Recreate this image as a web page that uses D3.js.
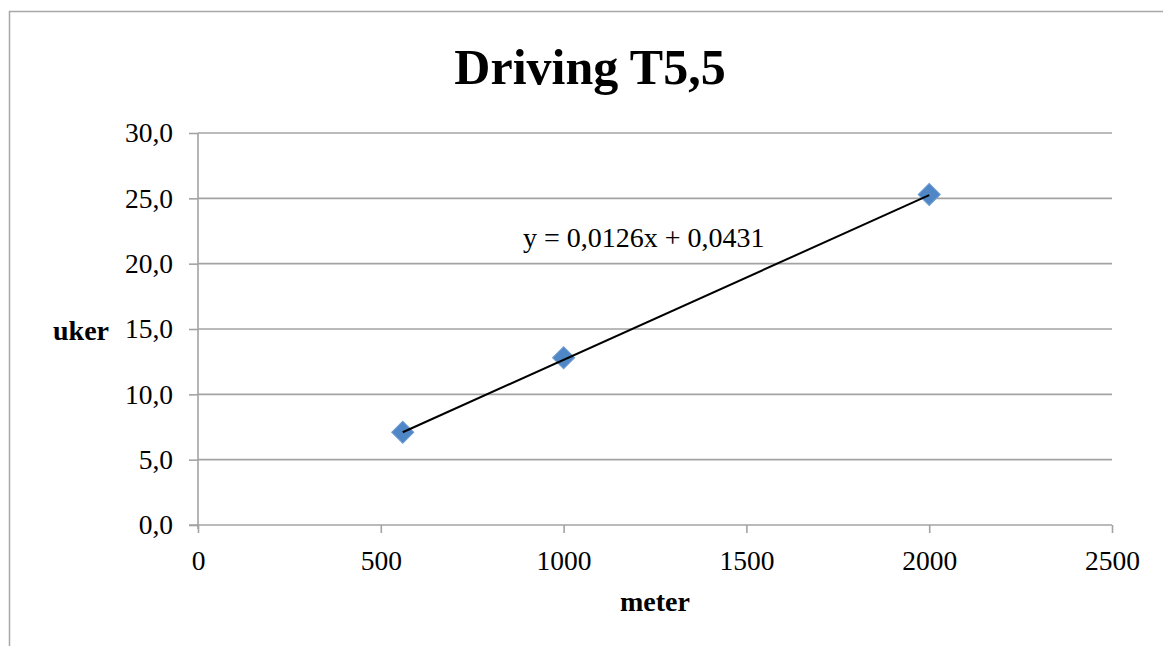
<!DOCTYPE html>
<html>
<head>
<meta charset="utf-8">
<script src="https://cdn.jsdelivr.net/npm/d3@7"></script>
<style>
  html, body { margin: 0; padding: 0; background: #fff; }
  svg { display: block; }
  text { font-family: "Liberation Serif", "DejaVu Serif", serif; fill: #000; }
</style>
</head>
<body>
<svg id="chart" width="1163" height="646"></svg>
<script>
// Distance (meter) vs. duration (uker)
const meters = [560, 1000, 2000];
const weeks = [7.1, 12.8, 25.3];
// Linear trendline coefficients
const slope = 0.0126;
const intercept = 0.0431;
const xTicks = [0, 500, 1000, 1500, 2000, 2500];
const yTicks = [0, 5, 10, 15, 20, 25, 30];
const titleText = "Driving T5,5";
const xLabel = "meter";
const yLabel = "uker";
const equationText = "y = 0,0126x + 0,0431";

const svg = d3.select("#chart");
const W = 1163, H = 646;
const plot = { left: 198, right: 1112, top: 133, bottom: 525 };
const gridColor = "#a3a3a3";
const labelSize = 27.5;

const x = d3.scaleLinear().domain([0, 2500]).range([plot.left, plot.right]);
const y = d3.scaleLinear().domain([0, 30]).range([plot.bottom, plot.top]);

// Chart-area border
svg.append("rect")
  .attr("x", 9.5).attr("y", 11.5)
  .attr("width", W + 20).attr("height", H + 20)
  .attr("fill", "#fff")
  .attr("stroke", "#a8a8a8").attr("stroke-width", 1.5);

// Title
svg.append("text")
  .attr("x", 590).attr("y", 84)
  .attr("text-anchor", "middle")
  .attr("font-size", 50).attr("font-weight", "bold")
  .text(titleText);

// Horizontal gridlines
svg.append("g").selectAll("line")
  .data(yTicks.filter(d => d > 0))
  .join("line")
  .attr("x1", plot.left).attr("x2", plot.right)
  .attr("y1", d => y(d)).attr("y2", d => y(d))
  .attr("stroke", gridColor).attr("stroke-width", 1.6);

// Y axis
const yAxis = d3.axisLeft(y)
  .tickValues(yTicks)
  .tickSize(9)
  .tickPadding(16)
  .tickFormat(d => d3.format(".1f")(d).replace(".", ","));
const gy = svg.append("g").attr("transform", `translate(${plot.left},0)`).call(yAxis);
gy.select(".domain").remove();
gy.append("line")
  .attr("x1", 0).attr("x2", 0)
  .attr("y1", plot.top).attr("y2", plot.bottom + 4)
  .attr("stroke", gridColor).attr("stroke-width", 1.6);
gy.selectAll(".tick line").attr("stroke", gridColor).attr("stroke-width", 1.6);
gy.selectAll(".tick text")
  .attr("font-size", labelSize)
  .attr("font-family", "Liberation Serif, serif")
  .attr("fill", "#000");

// X axis
const xAxis = d3.axisBottom(x)
  .tickValues(xTicks)
  .tickSize(8)
  .tickPadding(17)
  .tickFormat(d3.format("d"));
const gx = svg.append("g").attr("transform", `translate(0,${plot.bottom})`).call(xAxis);
gx.select(".domain").remove();
gx.append("line")
  .attr("x1", plot.left - 9).attr("x2", plot.right)
  .attr("y1", 0).attr("y2", 0)
  .attr("stroke", gridColor).attr("stroke-width", 1.6);
gx.selectAll(".tick line").attr("stroke", gridColor).attr("stroke-width", 1.6);
gx.selectAll(".tick text")
  .attr("font-size", labelSize)
  .attr("font-family", "Liberation Serif, serif")
  .attr("fill", "#000");

// Axis titles
svg.append("text")
  .attr("x", 655).attr("y", 611)
  .attr("text-anchor", "middle")
  .attr("font-size", 28).attr("font-weight", "bold")
  .text(xLabel);
svg.append("text")
  .attr("x", 53).attr("y", 340)
  .attr("font-size", 28).attr("font-weight", "bold")
  .text(yLabel);

// Trendline and markers
const xMin = d3.min(meters), xMax = d3.max(meters);
const pts = meters.map((m, i) => ({ m, w: weeks[i] }));

// Diamond markers
svg.append("g").selectAll("path")
  .data(pts)
  .join("path")
  .attr("transform", d => `translate(${x(d.m)},${y(d.w)}) rotate(45)`)
  .attr("d", "M-7.8,-7.8H7.8V7.8H-7.8Z")
  .attr("fill", "#4f86c6")
  .attr("stroke", "#6d9bd2").attr("stroke-width", 1);

// Trendline drawn over the markers
svg.append("line")
  .attr("x1", x(xMin)).attr("y1", y(slope * xMin + intercept))
  .attr("x2", x(xMax)).attr("y2", y(slope * xMax + intercept))
  .attr("stroke", "#000").attr("stroke-width", 2);

// Trendline equation
svg.append("text")
  .attr("x", 523).attr("y", 247)
  .attr("font-size", 28)
  .text(equationText);
</script>
</body>
</html>
